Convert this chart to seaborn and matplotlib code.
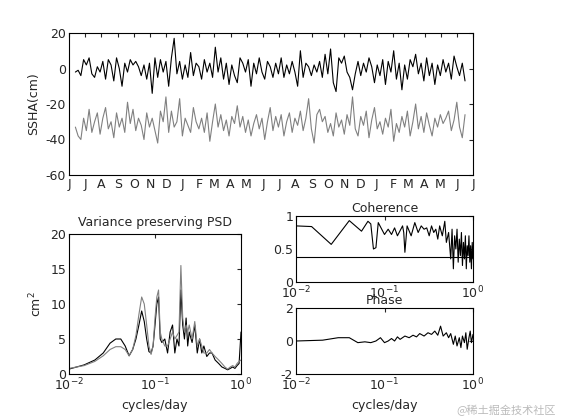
import numpy as np
import pandas as pd
import matplotlib
matplotlib.use('Agg')
import matplotlib.pyplot as plt
import seaborn as sns

# SSHA time series, roughly one value every 5 days from mid June
ssha_black = [-2, -1, -4, 5, 2, 6, -3, -5, 1, -2, 4, -6, 5, 2, -7, 6, 0, -10, 3, -2, 5, 2, 4, 1, -4, 2, -6, 3, -14, 6, -5, 5, -2, 4, -10, 6, 17, -3, 4, -6, 2, -5, 9, -4, 3, 1, -6, 5, -2, 3, -5, 12, -2, 6, -6, 3, -9, 2, -4, -8, 6, 3, -2, 5, -10, 3, -3, 6, -2, -6, 4, 1, -5, 3, -3, 6, -5, 2, -3, 4, -2, -10, 10, -5, 3, 1, -4, 2, -2, 4, -5, 8, -3, 11, -8, -13, 6, 3, 7, -2, -5, -12, -3, 4, -4, 3, -2, 6, 1, -8, 2, -4, 5, -9, 4, -2, 10, -6, 3, -12, 2, -6, 5, 1, 8, -3, 3, -7, 6, -4, 3, -9, 2, -4, 5, -2, 3, -6, 7, 1, -4, 3, -7]
ssha_gray = [-33, -38, -40, -28, -35, -23, -36, -30, -25, -37, -28, -22, -34, -30, -39, -25, -33, -28, -36, -19, -31, -23, -35, -28, -32, -40, -25, -33, -28, -35, -42, -24, -30, -16, -36, -24, -33, -30, -17, -38, -28, -32, -36, -22, -30, -34, -28, -36, -25, -41, -30, -20, -33, -26, -35, -29, -38, -27, -31, -21, -33, -27, -36, -29, -38, -31, -26, -34, -28, -40, -30, -22, -35, -27, -33, -26, -38, -30, -25, -36, -28, -32, -24, -35, -28, -17, -34, -42, -26, -23, -30, -27, -36, -31, -38, -25, -33, -29, -37, -26, -32, -16, -34, -38, -27, -32, -24, -39, -29, -22, -34, -30, -37, -28, -33, -23, -41, -31, -36, -27, -33, -24, -38, -30, -20, -34, -27, -36, -25, -32, -38, -28, -33, -26, -31, -28, -24, -35, -29, -19, -33, -39, -26]
days = np.linspace(12, 745, len(ssha_black))

# spectra
psd_freq = [0.01, 0.015, 0.02, 0.025, 0.03, 0.035, 0.04, 0.045, 0.05, 0.055, 0.06, 0.065, 0.07, 0.075, 0.08,
            0.085, 0.09, 0.095, 0.1, 0.105, 0.11, 0.115, 0.12, 0.13, 0.14, 0.15, 0.16, 0.17, 0.18, 0.19, 0.2,
            0.21, 0.22, 0.23, 0.24, 0.25, 0.27, 0.29, 0.31, 0.33, 0.35, 0.37, 0.4, 0.43, 0.46, 0.5, 0.55, 0.6,
            0.65, 0.7, 0.75, 0.8, 0.85, 0.9, 0.95, 1.0]
psd_black = [0.7, 1.3, 2, 3.0, 4.4, 5, 5, 4, 2.6, 3.5, 5, 7, 9, 7.5, 5, 3.2, 3, 4, 7, 10, 11, 5, 4.5, 5, 3, 6,
             7, 3, 5, 4, 12, 7, 5, 8, 4, 6, 4.5, 7, 3, 5, 3, 4, 2.5, 3, 3, 2, 1.5, 1, 0.8, 0.6, 0.8, 1, 0.8,
             1.2, 1.5, 6]
psd_gray = [0.8, 1.2, 1.8, 2.6, 3.5, 3.9, 3.9, 3.5, 2.6, 3.5, 5.5, 8.5, 11, 10, 7, 4, 2.8, 4, 8, 11, 12, 6, 5,
            4, 4, 5, 6, 5, 5.5, 6, 15.5, 8, 6, 7, 6, 7, 5, 7.5, 4, 5, 4, 3, 3, 3.5, 3, 2.5, 2, 1.5, 1, 0.7,
            1, 1.2, 1, 1.5, 1.8, 2]

coh_freq = [0.01, 0.015, 0.025, 0.04, 0.055, 0.065, 0.07, 0.075, 0.08, 0.085, 0.1, 0.11, 0.12, 0.13, 0.14,
            0.16, 0.165, 0.17, 0.18, 0.2, 0.22, 0.24, 0.26, 0.28, 0.3, 0.32, 0.34, 0.36, 0.38, 0.4, 0.42,
            0.45, 0.48, 0.5, 0.53, 0.56, 0.58, 0.6, 0.62, 0.64, 0.66, 0.68, 0.7, 0.72, 0.74, 0.76, 0.78,
            0.8, 0.82, 0.84, 0.86, 0.88, 0.9, 0.92, 0.94, 0.96, 0.98, 1.0]
coh_val = [0.85, 0.84, 0.57, 0.93, 0.77, 0.92, 0.88, 0.5, 0.52, 0.9, 0.72, 0.8, 0.72, 0.82, 0.7, 0.85, 0.75,
           0.45, 0.85, 0.7, 0.9, 0.75, 0.85, 0.8, 0.82, 0.7, 0.85, 0.75, 0.8, 0.65, 0.85, 0.7, 0.92, 0.6,
           0.75, 0.35, 0.8, 0.2, 0.7, 0.5, 0.8, 0.3, 0.65, 0.4, 0.75, 0.25, 0.6, 0.35, 0.7, 0.2, 0.55, 0.4,
           0.7, 0.3, 0.55, 0.2, 0.6, 0.35]
coh_level = 0.38

phase_freq = [0.01, 0.02, 0.03, 0.04, 0.05, 0.06, 0.07, 0.08, 0.09, 0.1, 0.11, 0.12, 0.13, 0.14, 0.15, 0.17,
              0.19, 0.21, 0.23, 0.25, 0.28, 0.31, 0.34, 0.37, 0.4, 0.43, 0.46, 0.5, 0.53, 0.56, 0.6, 0.63,
              0.66, 0.7, 0.73, 0.76, 0.8, 0.83, 0.86, 0.9, 0.93, 0.96, 1.0]
phase_val = [0, 0.05, 0.2, 0.2, -0.1, -0.05, -0.1, 0.0, 0.2, -0.1, 0.0, 0.15, 0.0, 0.25, 0.1, 0.3, 0.2, 0.35,
             0.25, 0.45, 0.3, 0.5, 0.4, 0.6, 0.35, 0.9, 0.3, 0.5, 0.2, 0.45, -0.2, 0.3, -0.3, 0.2, -0.4,
             0.3, -0.1, 0.5, -0.5, 0.2, 0.6, -0.1, 0.4]

months = list('JJASONDJFMAMJJASONDJFMAMJJ')
month_days = [0, 30, 61, 92, 122, 153, 183, 214, 245, 273, 304, 334, 365, 395, 426, 457, 487, 518, 548, 579,
              610, 638, 669, 699, 730, 760]

sns.set_style('white')
plt.rcParams['font.family'] = ['DejaVu Sans', 'Noto Sans CJK SC']
plt.rcParams['font.size'] = 9
plt.rcParams['axes.unicode_minus'] = False
plt.rcParams['xtick.direction'] = 'in'
plt.rcParams['ytick.direction'] = 'in'
plt.rcParams['axes.edgecolor'] = 'black'
plt.rcParams['axes.linewidth'] = 0.8

fig = plt.figure(figsize=(5.61, 4.2), dpi=100)
W, H = 561, 420
def box(x0, y0, x1, y1):
    return fig.add_axes([x0 / W, 1 - y1 / H, (x1 - x0) / W, (y1 - y0) / H])

ax1 = box(69, 33, 473, 175)
ax2 = box(69, 234, 241, 374)
ax3 = box(296, 216, 473, 282)
ax4 = box(296, 308, 473, 374)

ts = pd.DataFrame({'day': days, 'black': ssha_black, 'gray': ssha_gray})
sns.lineplot(data=ts, x='day', y='black', ax=ax1, color='black', lw=0.8)
sns.lineplot(data=ts, x='day', y='gray', ax=ax1, color='gray', lw=0.8)
ax1.set_xlim(0, 760)
ax1.set_ylim(-60, 20)
ax1.set_xticks(month_days)
ax1.set_xticklabels(months)
ax1.set_yticks([-60, -40, -20, 0, 20])
ax1.set_xlabel('')
ax1.set_ylabel('SSHA(cm)')

sns.lineplot(x=psd_freq, y=psd_black, ax=ax2, color='black', lw=0.8)
sns.lineplot(x=psd_freq, y=psd_gray, ax=ax2, color='gray', lw=0.8)
ax2.set_xscale('log')
ax2.set_xlim(0.01, 1)
ax2.set_ylim(0, 20)
ax2.set_title('Variance preserving PSD', fontsize=9)
ax2.set_xlabel('cycles/day')
ax2.set_ylabel('cm$^2$')

sns.lineplot(x=coh_freq, y=coh_val, ax=ax3, color='black', lw=0.8)
ax3.axhline(coh_level, color='black', lw=0.8)
ax3.set_xscale('log')
ax3.set_xlim(0.01, 1)
ax3.set_ylim(0, 1)
ax3.set_yticks([0, 0.5, 1])
ax3.set_yticklabels(['0', '0.5', '1'])
ax3.set_title('Coherence', fontsize=9, pad=3)

sns.lineplot(x=phase_freq, y=phase_val, ax=ax4, color='black', lw=0.8)
ax4.set_xscale('log')
ax4.set_xlim(0.01, 1)
ax4.set_ylim(-2, 2)
ax4.set_yticks([-2, 0, 2])
ax4.set_title('Phase', fontsize=9, pad=3)
ax4.set_xlabel('cycles/day')

for ax in (ax1, ax2, ax3, ax4):
    ax.tick_params(length=3, pad=2, top=True, right=True)

fig.text(0.99, 0.01, '@稀土掘金技术社区', ha='right', va='bottom', color='#bbbbbb', fontsize=8,
         family=['Noto Sans CJK SC', 'DejaVu Sans'])

fig.savefig('out.png', dpi=100)
